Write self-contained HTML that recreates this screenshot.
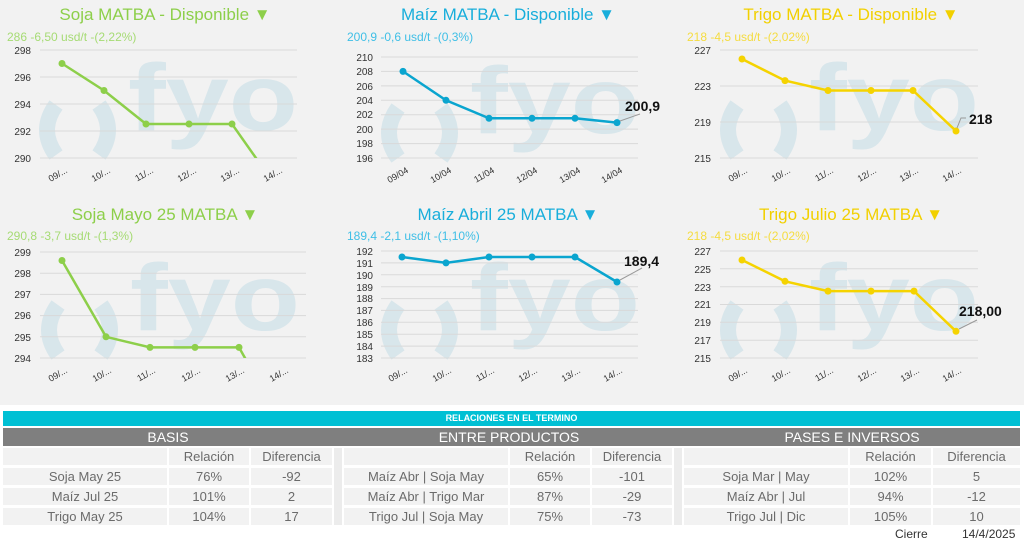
<!DOCTYPE html>
<html><head><meta charset="utf-8"><style>
body{margin:0;width:1024px;height:547px;background:#fff;overflow:hidden;font-family:"Liberation Sans",sans-serif}
#top{position:absolute;left:0;top:0;width:1024px;height:405px;background:#f2f2f2}
.c{position:absolute;background:#f2f2f2;color:#6b6b6b;font-size:13px;text-align:center;line-height:17px;height:17px}
.h{position:absolute;background:#7f7f7f;color:#fff;font-size:14px;text-align:center;line-height:18px;height:18px}
</style></head><body>
<div id="top"></div>
<svg width="1024" height="405" style="position:absolute;left:0;top:0" font-family="Liberation Sans, sans-serif">
<defs>
<g id="wm">
<path d="M56 105 Q38 130 56 155" stroke="#d8e6eb" stroke-width="16" fill="none"/>
<path d="M99 105 Q117 130 99 155" stroke="#d8e6eb" stroke-width="16" fill="none"/>
<text x="128" y="130" font-size="95" font-weight="bold" fill="#d8e6eb" textLength="170" lengthAdjust="spacingAndGlyphs">fyo</text>
</g>
<clipPath id="c1"><rect x="40" y="40" width="260" height="118"/></clipPath>
<clipPath id="c4"><rect x="40" y="240" width="270" height="118"/></clipPath>
</defs>
<!-- Panel 1 -->
<use href="#wm"/>
<text x="165" y="20" font-size="17" fill="#8dcf4a" text-anchor="middle">Soja MATBA - Disponible ▼</text>
<text x="7" y="41" font-size="12" fill="#a6db74">286 -6,50 usd/t -(2,22%)</text>
<g stroke="#d9d9d9"><line x1="40" y1="50" x2="297" y2="50"/><line x1="40" y1="77" x2="297" y2="77"/><line x1="40" y1="104" x2="297" y2="104"/><line x1="40" y1="131" x2="297" y2="131"/><line x1="40" y1="158" x2="297" y2="158"/></g>
<g font-size="10" fill="#333" text-anchor="end"><text x="31" y="54">298</text><text x="31" y="81">296</text><text x="31" y="108">294</text><text x="31" y="135">292</text><text x="31" y="162">290</text></g>
<g clip-path="url(#c1)"><polyline points="62,63.5 104,90.5 146,124 189,124 232,124 275,185" fill="none" stroke="#8dcf4a" stroke-width="2.5"/></g>
<g fill="#8dcf4a"><circle cx="62" cy="63.5" r="3.5"/><circle cx="104" cy="90.5" r="3.5"/><circle cx="146" cy="124" r="3.5"/><circle cx="189" cy="124" r="3.5"/><circle cx="232" cy="124" r="3.5"/></g>
<g font-size="9" fill="#333" text-anchor="end"><text transform="translate(68,172) rotate(-30)">09/...</text><text transform="translate(111,172) rotate(-30)">10/...</text><text transform="translate(154,172) rotate(-30)">11/...</text><text transform="translate(197,172) rotate(-30)">12/...</text><text transform="translate(240,172) rotate(-30)">13/...</text><text transform="translate(283,172) rotate(-30)">14/...</text></g>

<!-- Panel 2 -->
<use href="#wm" transform="translate(342,3)"/>
<text x="508" y="20" font-size="17" fill="#18aedb" text-anchor="middle">Maíz MATBA - Disponible ▼</text>
<text x="347" y="41" font-size="12" fill="#3fbfe6">200,9 -0,6 usd/t -(0,3%)</text>
<g stroke="#d9d9d9"><line x1="381" y1="57" x2="638" y2="57"/><line x1="381" y1="71.4" x2="638" y2="71.4"/><line x1="381" y1="85.9" x2="638" y2="85.9"/><line x1="381" y1="100.3" x2="638" y2="100.3"/><line x1="381" y1="114.7" x2="638" y2="114.7"/><line x1="381" y1="129.1" x2="638" y2="129.1"/><line x1="381" y1="143.6" x2="638" y2="143.6"/><line x1="381" y1="158" x2="638" y2="158"/></g>
<g font-size="10" fill="#333" text-anchor="end"><text x="373" y="61">210</text><text x="373" y="75">208</text><text x="373" y="90">206</text><text x="373" y="104">204</text><text x="373" y="118">202</text><text x="373" y="133">200</text><text x="373" y="147">198</text><text x="373" y="162">196</text></g>
<polyline points="403,71.4 446,100.3 489,118.3 532,118.3 575,118.3 617,122.6" fill="none" stroke="#0aa5cf" stroke-width="2.5"/>
<g fill="#0aa5cf"><circle cx="403" cy="71.4" r="3.5"/><circle cx="446" cy="100.3" r="3.5"/><circle cx="489" cy="118.3" r="3.5"/><circle cx="532" cy="118.3" r="3.5"/><circle cx="575" cy="118.3" r="3.5"/><circle cx="617" cy="122.6" r="3.5"/></g>
<line x1="620" y1="121" x2="640" y2="114" stroke="#999"/>
<text x="625" y="111" font-size="14" font-weight="bold" fill="#111">200,9</text>
<g font-size="9" fill="#333" text-anchor="end"><text transform="translate(409,172) rotate(-30)">09/04</text><text transform="translate(452,172) rotate(-30)">10/04</text><text transform="translate(495,172) rotate(-30)">11/04</text><text transform="translate(538,172) rotate(-30)">12/04</text><text transform="translate(581,172) rotate(-30)">13/04</text><text transform="translate(623,172) rotate(-30)">14/04</text></g>

<!-- Panel 3 -->
<use href="#wm" transform="translate(681,0)"/>
<text x="851" y="20" font-size="17" fill="#f2d000" text-anchor="middle">Trigo MATBA - Disponible ▼</text>
<text x="687" y="41" font-size="12" fill="#f5dc40">218 -4,5 usd/t -(2,02%)</text>
<g stroke="#d9d9d9"><line x1="720" y1="50" x2="978" y2="50"/><line x1="720" y1="86" x2="978" y2="86"/><line x1="720" y1="122" x2="978" y2="122"/><line x1="720" y1="158" x2="978" y2="158"/></g>
<g font-size="10" fill="#333" text-anchor="end"><text x="711" y="54">227</text><text x="711" y="90">223</text><text x="711" y="126">219</text><text x="711" y="162">215</text></g>
<polyline points="742,59 785,80.6 828,90.5 871,90.5 913,90.5 956,131" fill="none" stroke="#f5d300" stroke-width="2.5"/>
<g fill="#f5d300"><circle cx="742" cy="59" r="3.5"/><circle cx="785" cy="80.6" r="3.5"/><circle cx="828" cy="90.5" r="3.5"/><circle cx="871" cy="90.5" r="3.5"/><circle cx="913" cy="90.5" r="3.5"/><circle cx="956" cy="131" r="3.5"/></g>
<polyline points="957,128 961,118 966,118" fill="none" stroke="#999"/>
<text x="969" y="124" font-size="14" font-weight="bold" fill="#111">218</text>
<g font-size="9" fill="#333" text-anchor="end"><text transform="translate(748,172) rotate(-30)">09/...</text><text transform="translate(791,172) rotate(-30)">10/...</text><text transform="translate(834,172) rotate(-30)">11/...</text><text transform="translate(877,172) rotate(-30)">12/...</text><text transform="translate(919,172) rotate(-30)">13/...</text><text transform="translate(962,172) rotate(-30)">14/...</text></g>

<!-- Panel 4 -->
<use href="#wm" transform="translate(2,200)"/>
<text x="165" y="220" font-size="17" fill="#8dcf4a" text-anchor="middle">Soja Mayo 25 MATBA ▼</text>
<text x="7" y="240" font-size="12" fill="#a6db74">290,8 -3,7 usd/t -(1,3%)</text>
<g stroke="#d9d9d9"><line x1="40" y1="252" x2="306" y2="252"/><line x1="40" y1="273.2" x2="306" y2="273.2"/><line x1="40" y1="294.4" x2="306" y2="294.4"/><line x1="40" y1="315.6" x2="306" y2="315.6"/><line x1="40" y1="336.8" x2="306" y2="336.8"/><line x1="40" y1="358" x2="306" y2="358"/></g>
<g font-size="10" fill="#333" text-anchor="end"><text x="31" y="256">299</text><text x="31" y="277">298</text><text x="31" y="298">297</text><text x="31" y="319">296</text><text x="31" y="341">295</text><text x="31" y="362">294</text></g>
<g clip-path="url(#c4)"><polyline points="62,260.5 106,336.8 150,347.4 195,347.4 239,347.4 283,425" fill="none" stroke="#8dcf4a" stroke-width="2.5"/></g>
<g fill="#8dcf4a"><circle cx="62" cy="260.5" r="3.5"/><circle cx="106" cy="336.8" r="3.5"/><circle cx="150" cy="347.4" r="3.5"/><circle cx="195" cy="347.4" r="3.5"/><circle cx="239" cy="347.4" r="3.5"/></g>
<g font-size="9" fill="#333" text-anchor="end"><text transform="translate(68,372) rotate(-30)">09/...</text><text transform="translate(112,372) rotate(-30)">10/...</text><text transform="translate(156,372) rotate(-30)">11/...</text><text transform="translate(201,372) rotate(-30)">12/...</text><text transform="translate(245,372) rotate(-30)">13/...</text><text transform="translate(289,372) rotate(-30)">14/...</text></g>

<!-- Panel 5 -->
<use href="#wm" transform="translate(342,200)"/>
<text x="508" y="220" font-size="17" fill="#18aedb" text-anchor="middle">Maíz Abril 25 MATBA ▼</text>
<text x="347" y="240" font-size="12" fill="#3fbfe6">189,4 -2,1 usd/t -(1,10%)</text>
<g stroke="#d9d9d9"><line x1="381" y1="251" x2="638" y2="251"/><line x1="381" y1="262.9" x2="638" y2="262.9"/><line x1="381" y1="274.8" x2="638" y2="274.8"/><line x1="381" y1="286.7" x2="638" y2="286.7"/><line x1="381" y1="298.6" x2="638" y2="298.6"/><line x1="381" y1="310.4" x2="638" y2="310.4"/><line x1="381" y1="322.3" x2="638" y2="322.3"/><line x1="381" y1="334.2" x2="638" y2="334.2"/><line x1="381" y1="346.1" x2="638" y2="346.1"/><line x1="381" y1="358" x2="638" y2="358"/></g>
<g font-size="10" fill="#333" text-anchor="end"><text x="373" y="255">192</text><text x="373" y="267">191</text><text x="373" y="279">190</text><text x="373" y="291">189</text><text x="373" y="302">188</text><text x="373" y="314">187</text><text x="373" y="326">186</text><text x="373" y="338">185</text><text x="373" y="350">184</text><text x="373" y="362">183</text></g>
<polyline points="402,257 446,262.9 489,257 532,257 575,257 617,282" fill="none" stroke="#0aa5cf" stroke-width="2.5"/>
<g fill="#0aa5cf"><circle cx="402" cy="257" r="3.5"/><circle cx="446" cy="262.9" r="3.5"/><circle cx="489" cy="257" r="3.5"/><circle cx="532" cy="257" r="3.5"/><circle cx="575" cy="257" r="3.5"/><circle cx="617" cy="282" r="3.5"/></g>
<line x1="620" y1="280" x2="642" y2="268" stroke="#999"/>
<text x="624" y="266" font-size="14" font-weight="bold" fill="#111">189,4</text>
<g font-size="9" fill="#333" text-anchor="end"><text transform="translate(408,372) rotate(-30)">09/...</text><text transform="translate(452,372) rotate(-30)">10/...</text><text transform="translate(495,372) rotate(-30)">11/...</text><text transform="translate(538,372) rotate(-30)">12/...</text><text transform="translate(581,372) rotate(-30)">13/...</text><text transform="translate(623,372) rotate(-30)">14/...</text></g>

<!-- Panel 6 -->
<use href="#wm" transform="translate(681,200)"/>
<text x="851" y="220" font-size="17" fill="#f2d000" text-anchor="middle">Trigo Julio 25 MATBA ▼</text>
<text x="687" y="240" font-size="12" fill="#f5dc40">218 -4,5 usd/t -(2,02%)</text>
<g stroke="#d9d9d9"><line x1="720" y1="251" x2="978" y2="251"/><line x1="720" y1="268.8" x2="978" y2="268.8"/><line x1="720" y1="286.7" x2="978" y2="286.7"/><line x1="720" y1="304.5" x2="978" y2="304.5"/><line x1="720" y1="322.3" x2="978" y2="322.3"/><line x1="720" y1="340.2" x2="978" y2="340.2"/><line x1="720" y1="358" x2="978" y2="358"/></g>
<g font-size="10" fill="#333" text-anchor="end"><text x="711" y="255">227</text><text x="711" y="273">225</text><text x="711" y="291">223</text><text x="711" y="308">221</text><text x="711" y="326">219</text><text x="711" y="344">217</text><text x="711" y="362">215</text></g>
<polyline points="742,260 785,281.3 828,291.1 871,291.1 914,291.1 956,331.3" fill="none" stroke="#f5d300" stroke-width="2.5"/>
<g fill="#f5d300"><circle cx="742" cy="260" r="3.5"/><circle cx="785" cy="281.3" r="3.5"/><circle cx="828" cy="291.1" r="3.5"/><circle cx="871" cy="291.1" r="3.5"/><circle cx="914" cy="291.1" r="3.5"/><circle cx="956" cy="331.3" r="3.5"/></g>
<line x1="959" y1="329" x2="977" y2="320" stroke="#999"/>
<text x="959" y="316" font-size="14" font-weight="bold" fill="#111">218,00</text>
<g font-size="9" fill="#333" text-anchor="end"><text transform="translate(748,372) rotate(-30)">09/...</text><text transform="translate(791,372) rotate(-30)">10/...</text><text transform="translate(834,372) rotate(-30)">11/...</text><text transform="translate(877,372) rotate(-30)">12/...</text><text transform="translate(920,372) rotate(-30)">13/...</text><text transform="translate(962,372) rotate(-30)">14/...</text></g>
</svg>

<div style="position:absolute;left:3px;top:411px;width:1017px;height:15px;background:#00c0d4;color:#fff;font-size:9px;font-weight:bold;text-align:center;line-height:15px">RELACIONES EN EL TERMINO</div>
<div class="h" style="left:3px;top:428px;width:1017px"></div>
<div class="h" style="left:3px;top:428px;width:330px;background:none">BASIS</div>
<div class="h" style="left:344px;top:428px;width:330px;background:none">ENTRE PRODUCTOS</div>
<div class="h" style="left:684px;top:428px;width:336px;background:none">PASES E INVERSOS</div>

<div class="c" style="left:334px;top:448px;width:8px;height:77px;background:#ececec"></div>
<div class="c" style="left:674px;top:448px;width:8px;height:77px;background:#ececec"></div>

<div class="c" style="left:3px;top:448px;width:164px"></div>
<div class="c" style="left:169px;top:448px;width:80px">Relación</div>
<div class="c" style="left:251px;top:448px;width:81px">Diferencia</div>
<div class="c" style="left:3px;top:468px;width:164px">Soja May 25</div>
<div class="c" style="left:169px;top:468px;width:80px">76%</div>
<div class="c" style="left:251px;top:468px;width:81px">-92</div>
<div class="c" style="left:3px;top:488px;width:164px">Maíz Jul 25</div>
<div class="c" style="left:169px;top:488px;width:80px">101%</div>
<div class="c" style="left:251px;top:488px;width:81px">2</div>
<div class="c" style="left:3px;top:508px;width:164px">Trigo May 25</div>
<div class="c" style="left:169px;top:508px;width:80px">104%</div>
<div class="c" style="left:251px;top:508px;width:81px">17</div>

<div class="c" style="left:344px;top:448px;width:164px"></div>
<div class="c" style="left:510px;top:448px;width:80px">Relación</div>
<div class="c" style="left:592px;top:448px;width:80px">Diferencia</div>
<div class="c" style="left:344px;top:468px;width:164px">Maíz Abr | Soja May</div>
<div class="c" style="left:510px;top:468px;width:80px">65%</div>
<div class="c" style="left:592px;top:468px;width:80px">-101</div>
<div class="c" style="left:344px;top:488px;width:164px">Maíz Abr | Trigo Mar</div>
<div class="c" style="left:510px;top:488px;width:80px">87%</div>
<div class="c" style="left:592px;top:488px;width:80px">-29</div>
<div class="c" style="left:344px;top:508px;width:164px">Trigo Jul | Soja May</div>
<div class="c" style="left:510px;top:508px;width:80px">75%</div>
<div class="c" style="left:592px;top:508px;width:80px">-73</div>

<div class="c" style="left:684px;top:448px;width:164px"></div>
<div class="c" style="left:850px;top:448px;width:81px">Relación</div>
<div class="c" style="left:933px;top:448px;width:87px">Diferencia</div>
<div class="c" style="left:684px;top:468px;width:164px">Soja Mar | May</div>
<div class="c" style="left:850px;top:468px;width:81px">102%</div>
<div class="c" style="left:933px;top:468px;width:87px">5</div>
<div class="c" style="left:684px;top:488px;width:164px">Maíz Abr | Jul</div>
<div class="c" style="left:850px;top:488px;width:81px">94%</div>
<div class="c" style="left:933px;top:488px;width:87px">-12</div>
<div class="c" style="left:684px;top:508px;width:164px">Trigo Jul | Dic</div>
<div class="c" style="left:850px;top:508px;width:81px">105%</div>
<div class="c" style="left:933px;top:508px;width:87px">10</div>

<div style="position:absolute;left:895px;top:527px;font-size:12px;color:#333">Cierre</div>
<div style="position:absolute;left:962px;top:527px;font-size:12px;color:#333">14/4/2025</div>
</body></html>
